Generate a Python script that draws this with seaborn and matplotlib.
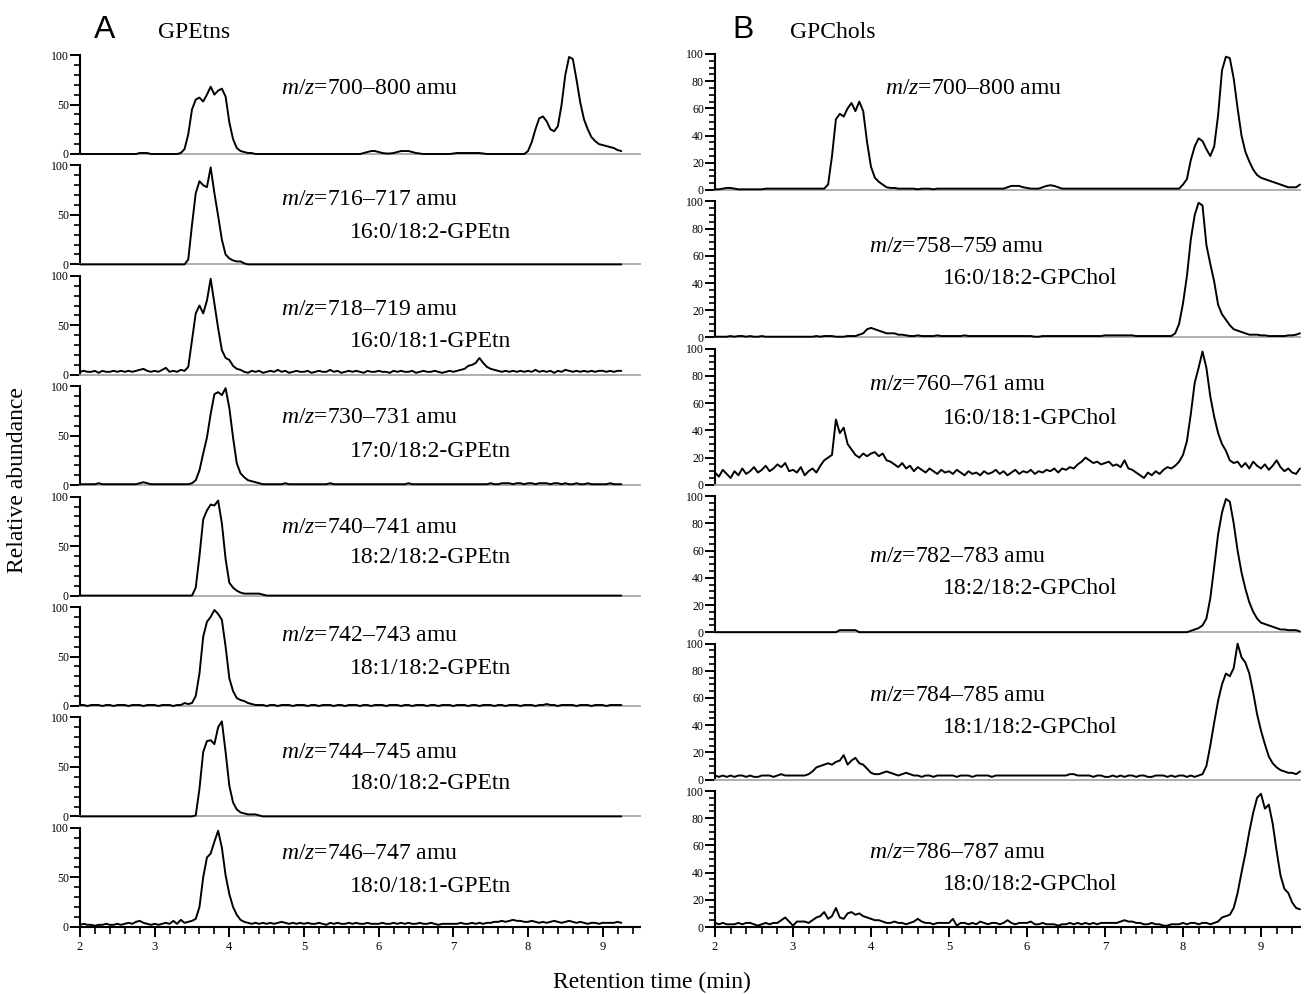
import numpy as np
import matplotlib
matplotlib.use("Agg")
import matplotlib.pyplot as plt
import seaborn as sns
from matplotlib.ticker import MultipleLocator, FixedLocator

# ---------------- data (relative abundance, sampled every 0.05 min) ----------------
# Left column (GPEtns): 2.00 ... 9.25 min
L700 = ([0,0,0,0,0,0,0,0,0,0,0,0,0,0,0,0,1,1,1,0] +
        [0,0,0,0,0,0,0,1,5,20,45,55,57,53,60,68,60,64,66,58] +
        [32,15,6,3,2,1,1,0,0,0,0,0,0,0,0,0,0,0,0,0] +
        [0,0,0,0,0,0,0,0,0,0,0,0,0,0,0,0,1,2,3,3] +
        [2,1,0.5,0.5,1,2,3,3,3,2,1,0.5,0,0,0,0,0,0,0,0] +
        [0.5,1,1,1,1,1,1,1,0.5,0,0,0,0,0,0,0,0,0,0,0] +
        [3,12,25,36,38,33,25,23,28,50,80,98,96,75,52,35,25,17,13,10] +
        [9,8,7,6,4,3])
L716 = ([0]*20 +
        [0,0,0,0,0,0,0,0,0,5,40,72,84,80,78,98,72,49,25,10] +
        [6,4,3,3,1] + [0]*15 +
        [0]*20 + [0]*20 + [0]*20 + [0]*20 + [0]*6)
L718 = ([3,4,3,3,4,2,4,3,3,4,3,4,3,4,3,4,5,6,4,3] +
        [4,3,5,7,3,4,3,5,4,8,35,62,70,62,75,97,72,47,25,17] +
        [15,9,6,5,3,2,4,3,4,2,3,4,3,5,3,4,2,3,4,3] +
        [3,4,2,3,4,3,3,5,3,4,2,3,4,3,4,3,2,4,3,3] +
        [4,3,3,2,4,3,4,3,3,4,2,3,4,3,3,4,3,2,3,4] +
        [3,4,5,6,9,10,12,17,12,8,6,5,4,3,4,3,4,3,4,3] +
        [4,3,5,3,4,3,4,2,4,3,5,4,3,4,3,4,3,4,3,4] +
        [4,3,4,3,4,4])
L730 = ([1,1,1,1,1,2,1,1,1,1,1,1,1,1,1,1,2,3,2,1] +
        [1,1,1,1,1,1,1,1,1,1,2,5,15,32,48,72,92,94,91,98] +
        [78,48,22,12,8,5,4,3,2,1,1,1,1,1,1,2,1,1,1,1] +
        [1,1,1,1,1,1,1,2,1,1,1,1,1,1,1,1,1,1,1,1] +
        [1,1,1,1,1,1,1,1,2,1,1,1,1,1,1,1,1,1,1,1] +
        [1,1,1,1,1,1,1,1,1,1,2,1,1,2,2,2,1,2,2,1] +
        [2,2,1,2,2,2,1,2,2,1,2,1,1,2,1,1,2,1,1,1] +
        [1,1,2,1,1,1])
L740 = ([0]*20 +
        [0,0,0,0,0,0,0,0,0,0,0,8,40,77,86,92,91,96,73,37] +
        [13,8,5,3,2,2,2,2,2,1] + [0]*10 +
        [0]*20 + [0]*20 + [0]*20 + [0]*20 + [0]*6)
L742 = ([1,1,0,1,1,1,0,1,1,0,1,1,1,0,1,1,1,0,1,1] +
        [1,0,1,1,1,0,1,1,3,2,3,10,33,70,85,90,97,93,87,60] +
        [28,15,8,6,5,3,2,1,1,1,0,1,1,0,1,1,1,0,1,1] +
        [1,0,1,1,0,1,1,1,0,1,1,0,1,1,1,0,1,1,0,1] +
        [1,1,0,1,1,1,0,1,1,0,1,1,1,0,1,1,0,1,1,1] +
        [0,1,1,1,0,1,1,0,1,1,1,0,1,1,0,1,1,1,0,1] +
        [1,1,0,1,1,2,1,1,0,1,1,1,1,0,1,1,1,0,1,1] +
        [1,0,1,1,1,1])
L744 = ([0]*20 +
        [0,0,0,0,0,0,0,0,0,0,0,1,28,65,76,77,73,90,96,65] +
        [31,14,7,4,3,2,2,2,1] + [0]*11 +
        [0]*20 + [0]*20 + [0]*20 + [0]*20 + [0]*6)
L746 = ([2,3,2,2,1,2,2,3,2,2,3,2,3,4,3,5,6,4,3,2] +
        [3,2,3,4,3,6,3,7,4,5,6,8,20,50,70,74,86,97,80,52] +
        [33,20,12,7,5,4,3,4,3,4,3,4,3,4,5,4,3,4,3,4] +
        [3,4,3,3,4,3,2,4,3,4,3,3,4,3,4,3,3,4,3,3] +
        [3,4,3,3,4,3,4,3,4,3,3,4,3,3,4,3,2,3,3,3] +
        [3,3,4,3,3,4,3,4,3,4,4,5,5,6,5,6,7,6,6,5] +
        [5,6,5,4,5,4,5,6,5,4,5,6,5,4,5,4,3,4,4,3] +
        [4,4,4,4,5,4])

# Right column (GPChols): 2.00 ... 9.50 min
R700 = ([0.5,0.5,1,1.5,1.5,1,0.5,0.5,0.5,0.5,0.5,0.5,0.5,1,1,1,1,1,1,1] +
        [1,1,1,1,1,1,1,1,1,4,25,52,56,54,60,64,58,65,58,35] +
        [17,9,6,4,2,1.5,1.5,1,1,1,1,1,0.5,1,1,1,0.5,1,1,1] +
        [1,1,1,1,1,1,1,1,1,1,1,1,1,1,1,2,3,3,3,2] +
        [1.5,1,1,1,2,3,3.5,3,2,1,1,1,1,1,1,1,1,1,1,1] +
        [1]*20 +
        [4,8,22,32,38,36,30,25,32,55,88,98,97,82,60,40,28,21,15,11] +
        [9,8,7,6,5,4,3,2,2,2,4])
R758 = ([0.5,0.5,0.5,0.5,1,0.5,1,1,0.5,1,0.5,0.5,1,0.5,0.5,0.5,0.5,0.5,0.5,0.5] +
        [0.5,0.5,0.5,0.5,0.5,0.5,1,0.5,1,1,1,0.5,0.5,0.5,1,1,1,2,3,6] +
        [7,6,5,4,3,3,3,2,2,1.5,1,1,1.5,1,1,1,1,1.5,1,1] +
        [1,1,1,1,1.5,1,1,1,1,1,1,1,1,1,1,1,1,1,1,1] +
        [1,1,0.5,0.5,1,1,1,1,1,1,1,1,1,1,1,1,1,1,1,1] +
        [1.5,1.5,1.5,1.5,1.5,1.5,1.5,1.5,1,1,1,1,1,1,1,1,1,1,3,10] +
        [25,45,72,90,99,97,68,54,41,24,17,13,9,6,5,4,3,2,2,2] +
        [1.5,1.5,1,1,1,1,1,1.5,1.5,2,3])
R760 = ([9,6,11,8,5,10,7,12,8,10,13,9,11,14,10,12,15,13,16,10] +
        [11,9,13,7,10,12,9,14,18,20,22,48,38,42,30,26,22,20,23,21] +
        [23,24,21,23,18,17,15,13,16,12,14,10,13,11,9,12,10,8,11,9] +
        [10,8,11,9,7,10,8,9,7,10,8,9,11,8,10,7,9,11,8,10] +
        [9,11,8,10,9,11,10,12,9,12,11,13,12,15,17,20,18,16,17,15] +
        [16,17,14,15,13,18,12,11,9,7,5,9,7,10,8,11,13,12,14,17] +
        [22,32,52,75,86,98,86,65,50,38,30,25,18,16,17,13,16,12,17,14] +
        [12,15,11,14,18,13,10,12,9,8,12])
R782 = ([0]*20 +
        [0,0,0,0,0,0,0,0,0,0,0,0,1.5,1.5,1.5,1.5,1.5,0,0,0] +
        [0]*20 + [0]*20 + [0]*20 + [0]*20 +
        [0,0,1,2,3,5,10,25,48,72,88,98,96,80,60,44,32,22,15,10] +
        [7,6,5,4,3,2,2,1.5,1.5,1.5,0.5])
R784 = ([3,2,3,2,3,2,3,3,2,3,2,2,3,3,3,2,3,4,3,3] +
        [3,3,3,3,4,6,9,10,11,12,11,13,14,18,11,14,16,12,11,8] +
        [5,4,4,5,6,5,4,3,4,5,4,3,3,2,3,3,2,3,3,3] +
        [3,3,2,3,3,3,2,3,3,3,3,2,3,3,3,3,3,3,3,3] +
        [3,3,3,3,3,3,3,3,3,3,3,4,4,3,3,3,3,2,3,3] +
        [2,2,3,2,3,2,3,3,2,3,3,2,2,3,3,3,2,3,2,3] +
        [3,2,3,2,3,4,10,25,42,58,70,78,76,82,100,90,86,78,64,48] +
        [36,26,17,12,9,7,6,5,5,4,6])
R786 = ([3,2,3,2,2,2,3,2,3,3,2,1,2,3,2,3,3,5,7,4] +
        [1,4,4,4,3,5,7,8,11,6,8,14,7,6,10,11,9,10,8,7] +
        [6,5,5,4,3,3,4,3,3,2,3,4,6,4,3,3,2,3,3,3] +
        [3,6,1,3,3,2,3,2,4,3,2,3,3,2,3,5,3,2,3,3] +
        [3,4,2,2,3,2,2,2,1,2,2,3,2,3,2,3,2,3,2,3] +
        [3,3,3,3,4,5,4,4,3,3,2,2,3,2,2,1,1,2,2,2] +
        [3,2,3,3,2,3,3,2,3,4,7,8,9,14,25,40,54,70,84,95] +
        [98,87,90,76,56,38,28,25,18,14,13])

left_traces = [L700, L716, L718, L730, L740, L742, L744, L746]
left_line1 = ["700–800", "716–717", "718–719", "730–731", "740–741", "742–743", "744–745", "746–747"]
left_line2 = ["", "16:0/18:2-GPEtn", "16:0/18:1-GPEtn", "17:0/18:2-GPEtn",
              "18:2/18:2-GPEtn", "18:1/18:2-GPEtn", "18:0/18:2-GPEtn", "18:0/18:1-GPEtn"]
right_traces = [R700, R758, R760, R782, R784, R786]
right_line1 = ["700–800", "758–759", "760–761", "782–783", "784–785", "786–787"]
right_line2 = ["", "16:0/18:2-GPChol", "16:0/18:1-GPChol", "18:2/18:2-GPChol",
               "18:1/18:2-GPChol", "18:0/18:2-GPChol"]

# ---------------- style ----------------
sns.set_style("ticks")
plt.rcParams["font.family"] = ["Liberation Serif", "DejaVu Serif"]
plt.rcParams["mathtext.fontset"] = "custom"
plt.rcParams["mathtext.it"] = "Liberation Serif:italic"
plt.rcParams["mathtext.rm"] = "Liberation Serif"
plt.rcParams["text.color"] = "black"
plt.rcParams["axes.labelcolor"] = "black"
plt.rcParams["xtick.color"] = "black"
plt.rcParams["ytick.color"] = "black"
plt.rcParams["axes.edgecolor"] = "black"

W, H = 1304, 994
fig = plt.figure(figsize=(W / 100, H / 100), dpi=100)

TXT = 17


def setup(ax, ymax, major, minor, bottom):
    ax.set_xlim(2, 9.5)
    ax.set_ylim(0, ymax)
    for s in ("top", "right"):
        ax.spines[s].set_visible(False)
    ax.spines["left"].set_bounds(0, 100)
    ax.spines["left"].set_linewidth(1.5)
    ax.spines["left"].set_color("black")
    ax.yaxis.set_major_locator(FixedLocator(np.arange(0, 100.1, major)))
    ax.yaxis.set_minor_locator(FixedLocator(np.arange(0, 100.1, minor)))
    ax.tick_params(axis="y", which="major", length=7, width=1.4, direction="out",
                   labelsize=8.5, pad=1, colors="black")
    ax.tick_params(axis="y", which="minor", length=4.5, width=1.2, direction="out",
                   colors="black")
    if bottom:
        ax.spines["bottom"].set_color("black")
        ax.spines["bottom"].set_linewidth(1.5)
        ax.xaxis.set_major_locator(MultipleLocator(1))
        ax.xaxis.set_minor_locator(MultipleLocator(0.2))
        ax.tick_params(axis="x", which="major", length=7, width=1.4, direction="out",
                       labelsize=9, pad=3, colors="black")
        ax.tick_params(axis="x", which="minor", length=5, width=1.2, direction="out",
                       colors="black")
    else:
        ax.spines["bottom"].set_color("#a8a8a8")
        ax.spines["bottom"].set_linewidth(1.3)
        ax.tick_params(axis="x", which="both", length=0, labelbottom=False)
    ax.set_xlabel("")
    ax.set_ylabel("")
    ax.set_facecolor("none")


# left column
l_left, l_width = 80 / W, 560 / W
l_pitch, l_zero0 = 110.4, 154.0
l_ymax = l_pitch / 99.0 * 100
l1_y = [66, 66, 66, 68, 69, 71, 65, 74]
l2_y = [0, 32, 34, 34, 38, 38, 33, 41]
t_left = np.round(np.arange(2.0, 9.2501, 0.05), 2)
for i, tr in enumerate(left_traces):
    zero_px = l_zero0 + i * l_pitch
    ax = fig.add_axes([l_left, 1 - zero_px / H, l_width, l_pitch / H])
    sns.lineplot(x=t_left, y=np.array(tr, dtype=float), ax=ax, color="black",
                 linewidth=1.4, estimator=None, clip_on=False, zorder=3)
    setup(ax, l_ymax, 50, 10, i == len(left_traces) - 1)
    ax.text(4.69, l1_y[i], r"$\mathit{m/z}$=" + left_line1[i] + " amu", fontsize=TXT,
            ha="left", va="center", color="black")
    if left_line2[i]:
        ax.text(5.62, l2_y[i], left_line2[i], fontsize=TXT, ha="left", va="center",
                color="black")

# right column
r_left, r_width = 715 / W, 585 / W
r_pitch, r_zero0 = 147.4, 190.0
r_ymax = r_pitch / 136.0 * 100
r1_x = [4.18, 3.98, 3.98, 3.98, 3.98, 3.98]
r1_y = [75, 67, 74, 56, 62, 55]
r2_y = [0, 43, 49, 32, 38, 31]
t_right = np.round(np.arange(2.0, 9.5001, 0.05), 2)
for i, tr in enumerate(right_traces):
    zero_px = r_zero0 + i * r_pitch
    ax = fig.add_axes([r_left, 1 - zero_px / H, r_width, r_pitch / H])
    sns.lineplot(x=t_right, y=np.array(tr, dtype=float), ax=ax, color="black",
                 linewidth=1.4, estimator=None, clip_on=False, zorder=3)
    setup(ax, r_ymax, 20, 5, i == len(right_traces) - 1)
    ax.text(r1_x[i], r1_y[i], r"$\mathit{m/z}$=" + right_line1[i] + " amu", fontsize=TXT,
            ha="left", va="center", color="black")
    if right_line2[i]:
        ax.text(4.92, r2_y[i], right_line2[i], fontsize=TXT, ha="left", va="center",
                color="black")

# panel titles and axis labels
fig.text(94 / W, 1 - 30 / H, "A", fontsize=23, family=["Liberation Sans", "DejaVu Sans"],
         ha="left", va="center", color="black")
fig.text(158 / W, 1 - 32 / H, "GPEtns", fontsize=TXT, ha="left", va="center", color="black")
fig.text(732 / W, 1 - 30 / H, "B", fontsize=23, family=["Liberation Sans", "DejaVu Sans"],
         ha="left", va="center", color="black")
fig.text(790 / W, 1 - 32 / H, "GPChols", fontsize=TXT, ha="left", va="center", color="black")
fig.text(18 / W, 1 - 480 / H, "Relative abundance", fontsize=TXT, rotation=90,
         ha="center", va="center", color="black")
fig.text(652 / W, 1 - 982 / H, "Retention time (min)", fontsize=TXT,
         ha="center", va="center", color="black")

fig.savefig("out.png", dpi=100, facecolor="white")
